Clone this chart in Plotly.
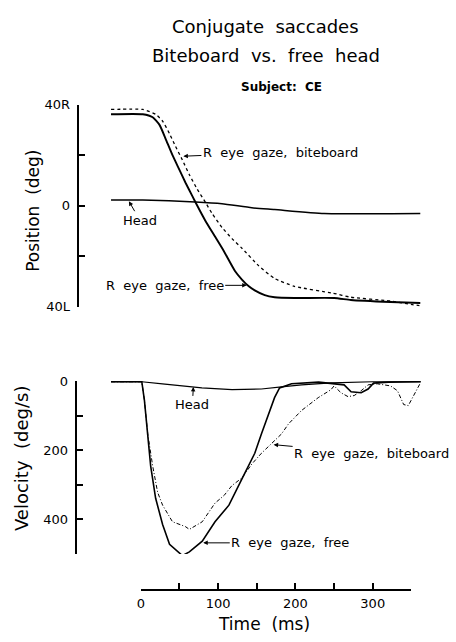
import plotly.graph_objects as go

# ---------------- data (time in ms) ----------------
free_pos_t = [-38.5, 2.6, 15.4, 24.4, 32.1, 41.0, 50.0, 57.7, 66.7, 73.1, 83.3, 96.2, 107.7,
              121.8, 130.8, 139.7, 147.4, 160.3, 173.1, 198.7, 250.0, 271.8, 323.0, 361.5]
free_pos = [36.2, 36.2, 35.0, 31.9, 26.5, 20.0, 14.2, 9.2, 3.8, 0.0, -5.8, -12.3, -18.1,
            -25.8, -29.2, -31.9, -33.5, -35.4, -36.2, -36.5, -36.5, -37.3, -38.1, -38.5]

bite_pos_t = [-38.5, 2.6, 19.2, 28.2, 37.2, 44.9, 53.8, 62.8, 73.1, 83.3, 92.3, 105.1, 117.9,
              130.8, 152.6, 173.1, 198.7, 248.7, 271.8, 323.0, 352.6, 362.8]
bite_pos = [38.1, 38.1, 36.2, 33.5, 28.5, 23.5, 18.1, 12.3, 6.5, 1.5, -3.1, -8.6, -13.0,
            -16.8, -23.8, -28.8, -31.9, -34.6, -36.2, -37.7, -39.2, -39.6]

head_pos_t = [-38.5, 2.6, 70.5, 105.0, 143.6, 173.0, 237.0, 361.5]
head_pos = [2.3, 2.3, 1.5, 0.8, -0.8, -1.5, -3.1, -3.1]

free_vel_t = [-38.5, 1.3, 4.7, 9.0, 12.8, 19.2, 28.2, 37.2, 47.4, 53.8, 62.8, 79.5, 96.0, 114.0,
              131.0, 147.4, 156.0, 165.0, 173.0, 179.5, 195.0, 230.0, 263.0, 272.0, 285.0,
              294.0, 301.0, 320.0, 362.0]
free_vel = [2, 2, 56, 153, 246, 339, 415, 472, 494, 505, 494, 463, 407, 359,
            282, 209, 153, 96, 48, 20, 8, 3, 11, 31, 34,
            23, 6, 3, 2]

bite_vel_t = [-38.5, 1.3, 4.7, 9.0, 15.4, 21.8, 28.2, 41.0, 57.7, 62.8, 79.5, 96.0, 107.7, 118.0,
              131.0, 143.6, 156.0, 169.0, 182.0, 191.0, 208.0, 229.5, 246.0, 250.0, 259.0,
              268.0, 276.0, 285.0, 294.0, 306.0, 323.0, 332.0, 340.0, 346.0, 353.0, 361.5]
bite_vel = [2, 2, 56, 153, 246, 322, 359, 407, 421, 429, 407, 353, 331, 302,
            280, 240, 209, 181, 153, 124, 85, 48, 25, 14, 34,
            45, 42, 28, 11, 8, 14, 28, 68, 71, 40, 6]

head_vel_t = [-38.5, 1.3, 28.0, 54.0, 79.0, 118.0, 156.0, 182.0, 208.0, 246.0, 300.0, 362.0]
head_vel = [2, 2, 8, 14, 20, 25, 23, 17, 11, 5, 2, 2]

pos_ticks = [-40, -20, 0, 20, 40]
pos_ticktext = ["40L", "", "0", "", "40R"]
vel_ticks = [0, 100, 200, 300, 400, 500]
vel_ticktext = ["0", "", "200", "", "400", ""]
time_ticks = [0, 50, 100, 150, 200, 250, 300, 350]
time_ticktext = ["0", "", "100", "", "200", "", "300", ""]

# ---------------- layout helpers (pixel -> paper) ----------------
W, H = 456, 642
def fx(p):
    return p / W
def fy(p):
    return 1 - p / H

FONT = "DejaVu Sans"
X0_PX, PX_PER_MS = 138.0, 0.78
XR = [-45, 370]
xdom = [fx(X0_PX + XR[0] * PX_PER_MS), fx(X0_PX + XR[1] * PX_PER_MS)]
tdom = [fx(X0_PX), fx(X0_PX + 350 * PX_PER_MS)]

fig = go.Figure()
blk = "black"
# position panel
fig.add_trace(go.Scatter(x=bite_pos_t, y=bite_pos, mode="lines", xaxis="x", yaxis="y",
                         line=dict(color=blk, width=1.3, dash="dot", shape="spline", smoothing=0.5)))
fig.add_trace(go.Scatter(x=free_pos_t, y=free_pos, mode="lines", xaxis="x", yaxis="y",
                         line=dict(color=blk, width=1.9, shape="spline", smoothing=0.5)))
fig.add_trace(go.Scatter(x=head_pos_t, y=head_pos, mode="lines", xaxis="x", yaxis="y",
                         line=dict(color=blk, width=1.5, shape="spline", smoothing=0.5)))
# velocity panel
fig.add_trace(go.Scatter(x=bite_vel_t, y=bite_vel, mode="lines", xaxis="x2", yaxis="y2",
                         line=dict(color=blk, width=1.0, dash="4px,2px,1px,2px")))
fig.add_trace(go.Scatter(x=free_vel_t, y=free_vel, mode="lines", xaxis="x2", yaxis="y2",
                         line=dict(color=blk, width=1.6)))
fig.add_trace(go.Scatter(x=head_vel_t, y=head_vel, mode="lines", xaxis="x2", yaxis="y2",
                         line=dict(color=blk, width=1.2)))
# carrier for the detached time axis
fig.add_trace(go.Scatter(x=[], y=[], xaxis="x3", yaxis="y2", mode="lines"))

tickfont = dict(family=FONT, size=13, color=blk)
common_y = dict(showgrid=False, zeroline=False, showline=True, linecolor=blk, linewidth=1.5,
                ticks="inside", ticklen=6, tickwidth=1.5, tickcolor=blk, tickfont=tickfont,
                anchor="free", ticklabelstandoff=5)
hidden_x = dict(visible=False, range=XR, domain=xdom, showgrid=False, zeroline=False)

fig.update_layout(
    width=W, height=H, margin=dict(l=0, r=0, t=0, b=0),
    paper_bgcolor="white", plot_bgcolor="rgba(0,0,0,0)", showlegend=False,
    font=dict(family=FONT, color=blk),
    xaxis=dict(hidden_x, anchor="y"),
    xaxis2=dict(hidden_x, anchor="y2"),
    xaxis3=dict(range=[0, 350], domain=tdom, anchor="free", position=fy(597),
                showgrid=False, zeroline=False, showline=True, linecolor=blk, linewidth=1.5,
                ticks="inside", ticklen=6, tickwidth=1.5, tickcolor=blk, tickfont=tickfont,
                tickvals=time_ticks, ticktext=time_ticktext, ticklabelstandoff=2),
    yaxis=dict(common_y, range=[-40, 40], domain=[fy(307), fy(100)], position=fx(75),
               tickvals=pos_ticks, ticktext=pos_ticktext),
    yaxis2=dict(common_y, range=[500, 0], domain=[fy(560), fy(383)], position=fx(73),
                tickvals=vel_ticks, ticktext=vel_ticktext),
)

def txt(x, y, s, size, angle=0, bold=False):
    fig.add_annotation(x=x, y=y, xref="paper", yref="paper", text=("<b>%s</b>" % s) if bold else s,
                       showarrow=False, textangle=angle, xanchor="center", yanchor="middle",
                       font=dict(family=FONT, size=size, color=blk))

txt(fx(264), fy(20), "Conjugate  saccades", 18)
txt(fx(264), fy(50), "Biteboard  vs.  free  head", 18)
txt(fx(280), fy(82), "Subject:  CE", 12, bold=True)
txt(fx(29), fy(209), "Position  (deg)", 17, angle=-90)
txt(fx(17), fy(462), "Velocity  (deg/s)", 18, angle=-90)
txt(fx(262), fy(632), "Time  (ms)", 17)

def lab(x, y, s, ax, ay, xr, yr):
    fig.add_annotation(x=x, y=y, xref=xr, yref=yr, text=s, showarrow=True, ax=ax, ay=ay,
                       axref="pixel", ayref="pixel", arrowhead=2, arrowsize=0.9, arrowwidth=1,
                       arrowcolor=blk, standoff=0, font=dict(family=FONT, size=13, color=blk))

lab(55.1, 19.6, "R  eye  gaze,  biteboard", 97, -4, "x", "y")
lab(137.0, -31.5, "R  eye  gaze,  free", -82, 0, "x", "y")
lab(-15.4, 1.8, "Head", 11, 19, "x", "y")
lab(68.0, 17.0, "Head", -1, 18, "x2", "y2")
lab(171.8, 184.0, "R  eye  gaze,  biteboard", 98, 9, "x2", "y2")
lab(80.8, 468.0, "R  eye  gaze,  free", 87, 0, "x2", "y2")

fig.write_html("out.html")
